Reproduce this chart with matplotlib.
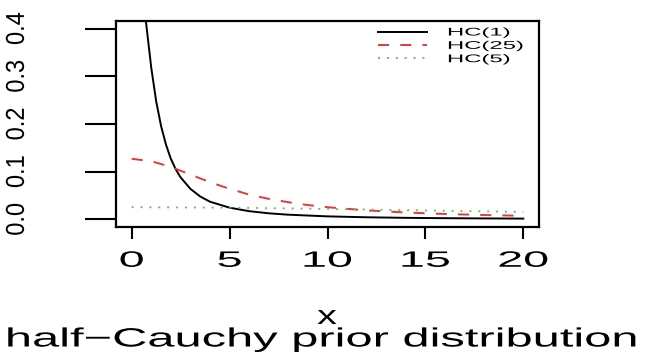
import matplotlib
matplotlib.use('Agg')
import matplotlib.pyplot as plt
from matplotlib import patheffects
from matplotlib.transforms import Affine2D

plt.rcParams['font.family'] = ['Liberation Sans', 'DejaVu Sans']
plt.rcParams['lines.scale_dashes'] = False

# half-Cauchy densities, read along x
x_hc1 = [0, 0.25, 0.5, 0.75, 1, 1.25, 1.5, 1.75, 2, 2.25, 2.5, 3, 3.5, 4,
         5, 6, 7, 8, 10, 12, 14, 16, 18, 20]
y_hc1 = [0.637, 0.599, 0.509, 0.407, 0.318, 0.248, 0.196, 0.157, 0.127,
         0.105, 0.088, 0.064, 0.048, 0.037, 0.0245, 0.0172, 0.0127, 0.0098,
         0.0063, 0.0044, 0.0032, 0.0025, 0.0020, 0.0016]

x_hc5 = [0, 1, 2, 3, 4, 5, 6, 7, 8, 9, 10, 12, 14, 16, 18, 20]
y_hc5 = [0.127, 0.122, 0.110, 0.094, 0.078, 0.064, 0.052, 0.043, 0.036,
         0.030, 0.0255, 0.0188, 0.0144, 0.0113, 0.0091, 0.0075]

x_hc25 = [0, 5, 10, 15, 20]
y_hc25 = [0.0255, 0.0245, 0.0219, 0.0187, 0.0155]

legend_labels = ['HC(1)', 'HC(25)', 'HC(5)']
xticks = [0, 5, 10, 15, 20]
yticks = [0.0, 0.1, 0.2, 0.3, 0.4]
ytick_labels = ['0.0', '0.1', '0.2', '0.3', '0.4']


class HStretch(patheffects.AbstractPathEffect):
    """Widen glyphs horizontally around their centre (or left edge)."""

    def __init__(self, sx, anchor='center'):
        super().__init__()
        self.sx = sx
        self.anchor = anchor

    def draw_path(self, renderer, gc, tpath, affine, rgbFace=None):
        ext = tpath.get_extents(affine)
        px = ext.x0 if self.anchor == 'left' else (ext.x0 + ext.x1) / 2
        st = Affine2D().translate(-px, 0).scale(self.sx, 1).translate(px, 0)
        renderer.draw_path(gc, tpath, affine + st, rgbFace)


W, H = 646, 352
fig = plt.figure(figsize=(W / 100, H / 100), dpi=100)
ax = fig.add_axes([116 / W, (H - 227) / H, (539 - 116) / W, (227 - 21) / H])

l1, = ax.plot(x_hc1, y_hc1, color='black', lw=1.4)
l2, = ax.plot(x_hc5, y_hc5, color='#e03a3a', lw=1.4, dashes=(8.0, 8.0))
l3, = ax.plot(x_hc25, y_hc25, color='#5cc05c', lw=1.3, dashes=(1.4, 5.0))

ax.set_xlim(-0.8, 20.8)
ax.set_ylim(-0.016, 0.416)
ax.set_xticks(xticks)
ax.set_xticklabels([str(t) for t in xticks])
ax.set_yticks(yticks)
ax.set_yticklabels(ytick_labels)

for sp in ax.spines.values():
    sp.set_linewidth(1.6)
ax.tick_params(axis='x', length=8.6, width=1.5, pad=8.5, labelsize=16)
ax.tick_params(axis='y', length=22.3, width=1.5, pad=41, labelsize=17,
               labelrotation=90)
for lab in ax.get_xticklabels():
    lab.set_path_effects([HStretch(2.1)])
for lab in ax.get_yticklabels():
    lab.set_va('center')
    lab.set_path_effects([HStretch(1.1)])

leg = ax.legend([l1, l2, l3], legend_labels, loc='upper left',
                bbox_to_anchor=(378 / W, 1 - 27.5 / H),
                bbox_transform=fig.transFigure, frameon=False, fontsize=8,
                handlelength=4.4, handletextpad=1.9, labelspacing=0.3,
                borderpad=0, borderaxespad=0)
for t in leg.get_texts():
    t.set_path_effects([HStretch(2.15, anchor='left')])

fig.text(327 / W, (H - 324) / H, 'x', ha='center', va='baseline',
         fontsize=19, path_effects=[HStretch(1.5)])
fig.text(322 / W, (H - 346.5) / H, 'half\u2212Cauchy prior distribution',
         ha='center', va='baseline', fontsize=19,
         path_effects=[HStretch(1.85)])

fig.savefig('out.png', dpi=100)
